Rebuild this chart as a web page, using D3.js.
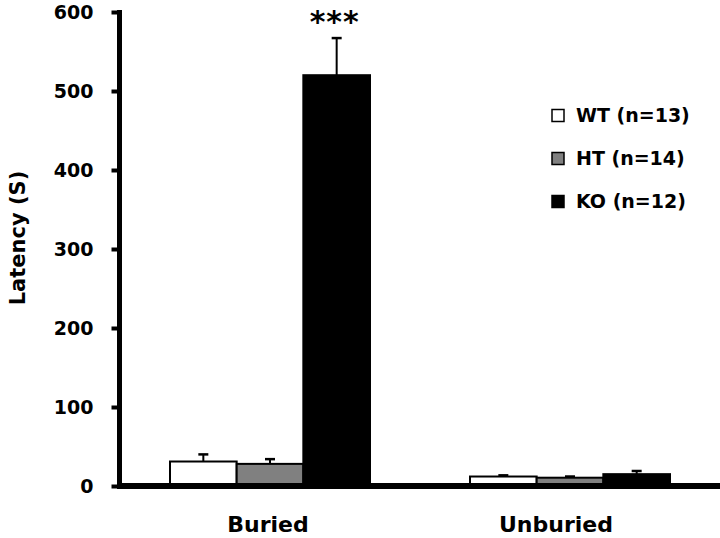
<!DOCTYPE html>
<html>
<head>
<meta charset="utf-8">
<script src="https://cdn.jsdelivr.net/npm/d3@7"></script>
<style>
  html, body { margin: 0; padding: 0; background: #fff; }
  svg { display: block; }
  text { font-family: "DejaVu Sans", sans-serif; font-weight: bold; fill: #000; }
</style>
</head>
<body>
<svg id="chart" width="720" height="538"></svg>
<script>
// ---- data ----
const categories = ["Buried", "Unburied"];
const seriesNames = ["WT (n=13)", "HT (n=14)", "KO (n=12)"];
const wtValues = [31, 12];
const htValues = [28, 10.5];
const koValues = [520, 15];
const wtErrors = [9, 1.5];
const htErrors = [6, 1.5];
const koErrors = [47, 4];
const significance = ["***", ""];
const yTicks = [0, 100, 200, 300, 400, 500, 600];
const yLabel = "Latency (S)";

const seriesColors = ["#ffffff", "#808080", "#000000"];
const seriesValues = [wtValues, htValues, koValues];
const seriesErrors = [wtErrors, htErrors, koErrors];

const svg = d3.select("#chart");

const x = d3.scaleBand().domain(categories).range([120, 720])
  .paddingInner(1 / 3).paddingOuter(1 / 6);
const xs = d3.scaleBand().domain(seriesNames).range([0, x.bandwidth()]);
const y = d3.scaleLinear().domain([0, 600]).range([486, 12]);

const rows = [];
categories.forEach((c, ci) => {
  seriesNames.forEach((s, si) => {
    rows.push({ c, s, si, v: seriesValues[si][ci], e: seriesErrors[si][ci] });
  });
});

// bars
svg.append("g").selectAll("rect").data(rows).join("rect")
  .attr("x", d => x(d.c) + xs(d.s))
  .attr("y", d => y(d.v))
  .attr("width", xs.bandwidth())
  .attr("height", d => y(0) - y(d.v))
  .attr("fill", d => seriesColors[d.si])
  .attr("stroke", "#000")
  .attr("stroke-width", 2);

// error bars (upper only)
const eg = svg.append("g").attr("stroke", "#000").attr("stroke-width", 2);
rows.forEach(d => {
  const cx = x(d.c) + xs(d.s) + xs.bandwidth() / 2;
  eg.append("line").attr("x1", cx).attr("x2", cx)
    .attr("y1", y(d.v)).attr("y2", y(d.v + d.e));
  eg.append("line").attr("x1", cx - 5).attr("x2", cx + 5)
    .attr("y1", y(d.v + d.e)).attr("y2", y(d.v + d.e))
    .attr("stroke-width", 2.5);
});

// significance stars above KO bars
categories.forEach((c, ci) => {
  if (!significance[ci]) return;
  const si = 2;
  const cx = x(c) + xs(seriesNames[si]) + xs.bandwidth() / 2;
  svg.append("text")
    .attr("x", cx - 2)
    .attr("y", y(seriesValues[si][ci] + seriesErrors[si][ci]) + 0)
    .attr("dy", -6)
    .attr("text-anchor", "middle")
    .style("font-size", "30px")
    .style("letter-spacing", "1px")
    .text(significance[ci]);
});

// y axis
const yAxis = d3.axisLeft(y).tickValues(yTicks).tickSize(8).tickSizeOuter(0).tickPadding(18);
const ya = svg.append("g").attr("transform", "translate(119.5,0)").call(yAxis);
ya.select(".domain").remove();
ya.selectAll(".tick line").attr("stroke", "#000").attr("stroke-width", 4);
ya.selectAll(".tick text").style("font-size", "19px")
  .style("font-family", "'DejaVu Sans', sans-serif").style("font-weight", "bold")
  .attr("fill", "#000");
svg.append("line").attr("x1", 119.5).attr("x2", 119.5)
  .attr("y1", y(600) - 2).attr("y2", y(0) + 3)
  .attr("stroke", "#000").attr("stroke-width", 5);

// x axis line
svg.append("line").attr("x1", 117).attr("x2", 720)
  .attr("y1", y(0)).attr("y2", y(0))
  .attr("stroke", "#000").attr("stroke-width", 6);

// category labels
const labelShift = [-2, -14];
categories.forEach((c, ci) => {
  svg.append("text")
    .attr("x", x(c) + x.bandwidth() / 2 + labelShift[ci])
    .attr("y", 532)
    .attr("text-anchor", "middle")
    .style("font-size", "22px")
    .text(c);
});

// y label
svg.append("text")
  .attr("transform", "translate(25,238) rotate(-90)")
  .attr("text-anchor", "middle")
  .style("font-size", "21px")
  .text(yLabel);

// legend
const lg = svg.append("g");
seriesNames.forEach((s, i) => {
  const by = 121.5 + i * 43;
  lg.append("rect").attr("x", 552).attr("y", by - 12).attr("width", 12).attr("height", 12)
    .attr("fill", seriesColors[i]).attr("stroke", "#000").attr("stroke-width", 1.5);
  lg.append("text").attr("x", 576).attr("y", by)
    .style("font-size", "19px").text(s);
});
</script>
</body>
</html>
